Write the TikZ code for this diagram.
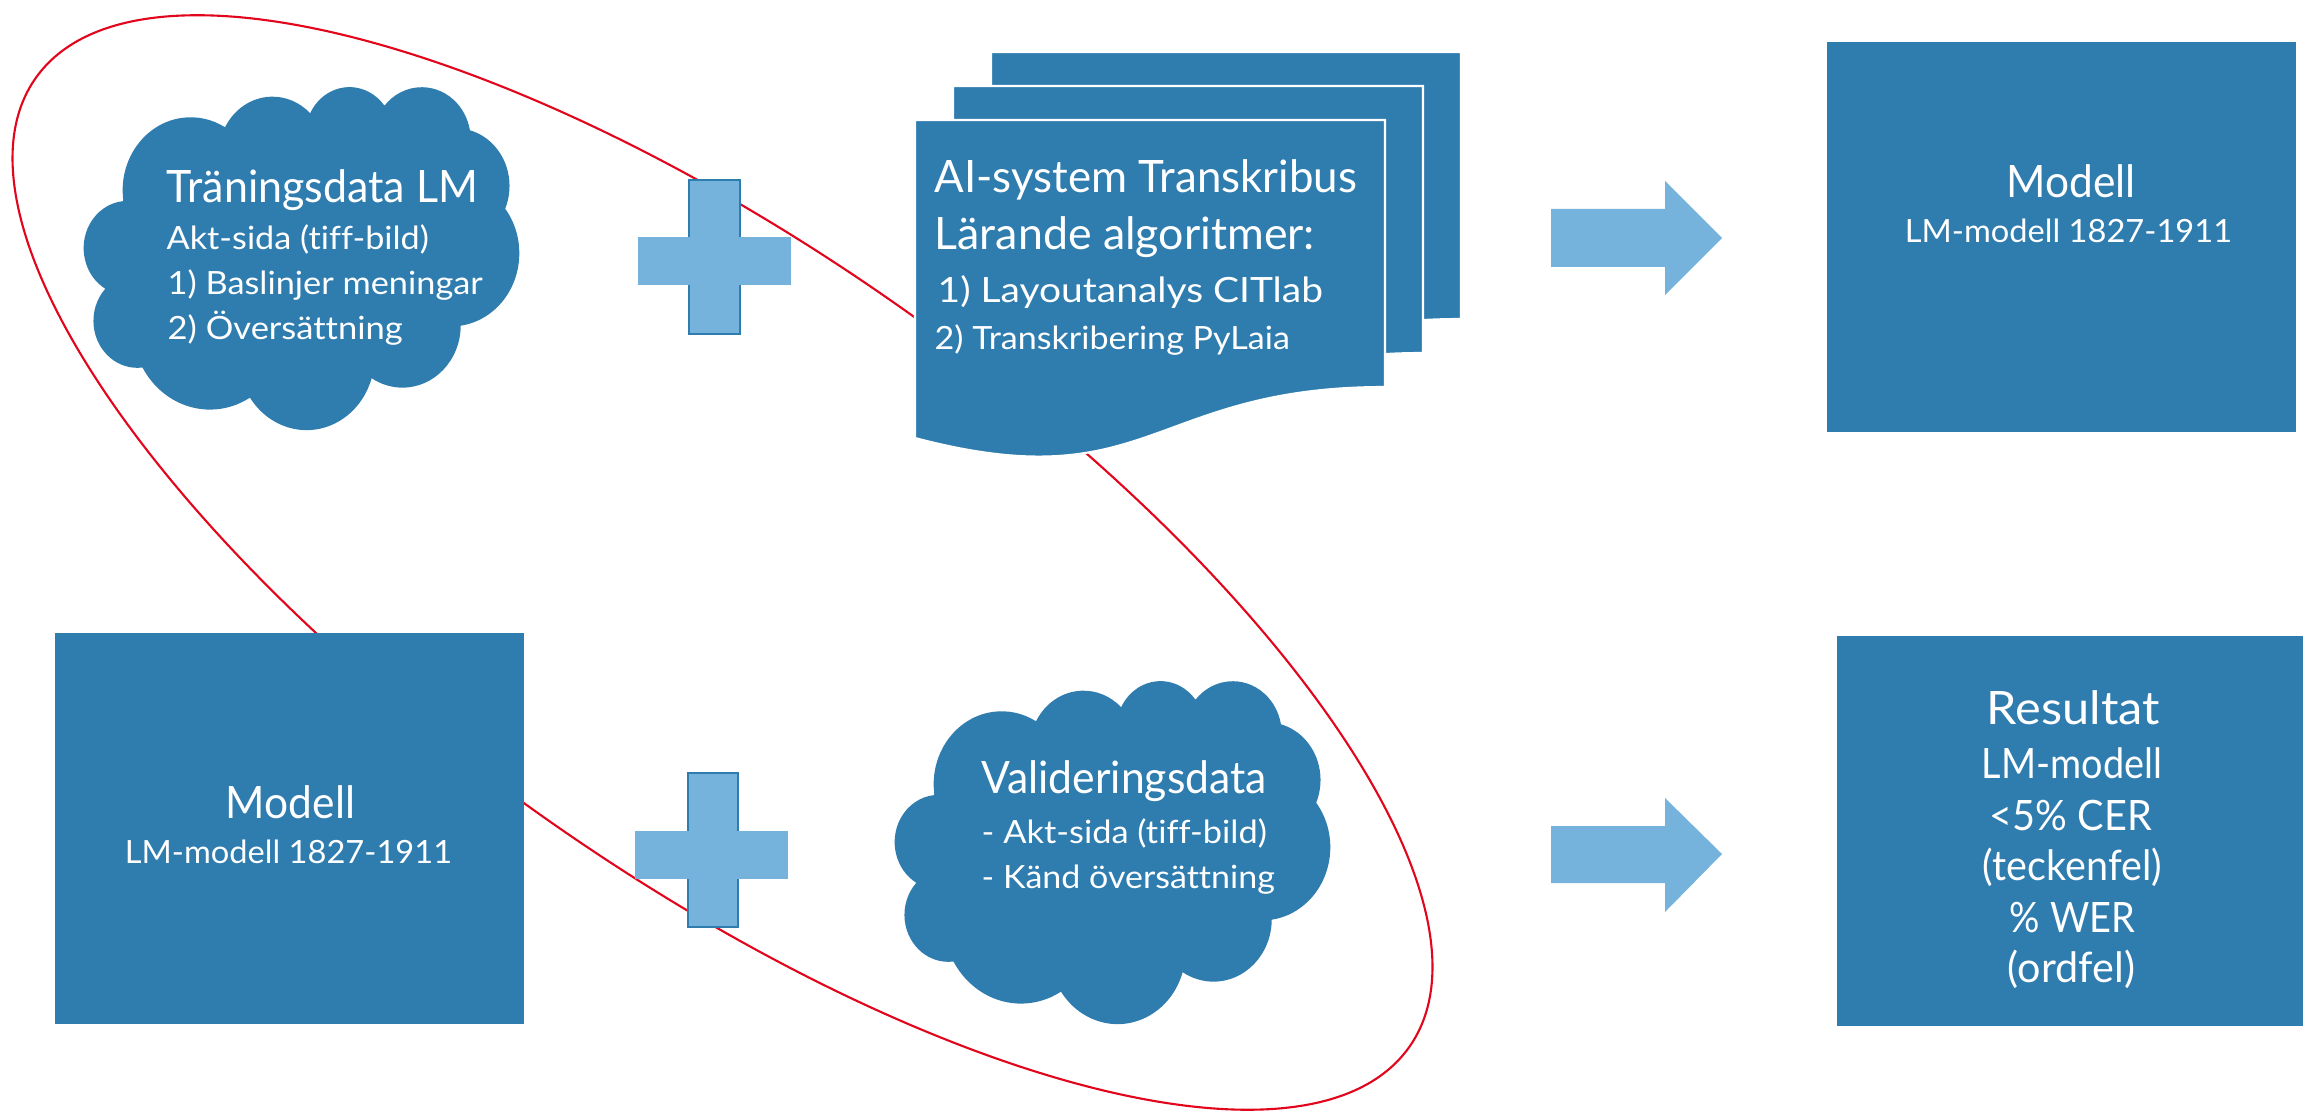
\documentclass[tikz,border=0pt]{standalone}
\usepackage{fontspec}
\setmainfont{Lato}[Ligatures=NoCommon]
\usepackage{graphicx}
\definecolor{dblue}{HTML}{2F7CAF}
\definecolor{lblue}{HTML}{75B3DC}
\definecolor{ered}{HTML}{E2061C}
\newcommand\fitw[2]{\resizebox{#1}{\height}{#2}}
\begin{document}
\begin{tikzpicture}[x=0.01cm,y=-0.01cm,
  box/.style={fill=dblue, draw=none, inner sep=0pt, minimum width=4.69cm, minimum height=3.9cm},
  wtxt/.style={text=white, inner sep=0pt},
  page/.style={fill=dblue, draw=white, line width=0.6pt},
  blk/.style={fill=lblue, draw=none},
  vbar/.style={fill=lblue, draw=dblue, line width=0.5pt},
  cloudfill/.style={fill=dblue, draw=none},
  fA/.style={font=\fontsize{12.7}{15}\selectfont},
  fB/.style={font=\fontsize{9.1}{11}\selectfont},
  fC/.style={font=\fontsize{9.9}{12}\selectfont},
  fR/.style={font=\fontsize{13.1}{16}\selectfont},
  fS/.style={font=\fontsize{11.9}{14}\selectfont}]
\useasboundingbox (0,0) rectangle (2303,1113);
% red ellipse (behind everything)
\draw[ered, line width=0.6pt, rotate around={-35.2:(722.5,562.5)}] (722.5,562.5) ellipse [x radius=8.40cm, y radius=3.11cm];

% clouds (PowerPoint cloud geometry)
\foreach \cx/\cy in {84/86, 895/680}{
  \path[cloudfill, shift={(\cx,\cy)}, x=0.00100694cm, y=-0.00079398cm]
    (390,1437)
    arc[x radius=675.3, y radius=919.0, start angle=-187.75, end angle=-59.64]
    arc[x radius=533.3, y radius=726.7, start angle=-152.02, end angle=-45.45]
    arc[x radius=436.5, y radius=594.5, start angle=-153.48, end angle=-37.30]
    arc[x radius=485.7, y radius=659.5, start angle=-139.72, end angle=-10.21]
    arc[x radius=533.3, y radius=727.3, start angle=-74.77, end angle=23.21]
    arc[x radius=677.5, y radius=922.0, start angle=-37.53, end angle=81.86]
    arc[x radius=578.5, y radius=786.7, start angle=0.46, end angle=121.98]
    arc[x radius=675.2, y radius=921.5, start angle=16.84, end angle=146.23]
    arc[x radius=772.0, y radius=1054.3, start angle=58.98, end angle=150.20]
    arc[x radius=436.0, y radius=591.8, start angle=-276.69, end angle=-136.90]
    arc[x radius=434.5, y radius=594.5, start angle=-239.64, end angle=-95.89]
    -- cycle;
}
\coordinate (cloud1) at (301.5,257.5);
\coordinate (cloud2) at (1112.5,851.5);

% cloud 1 text
\node[wtxt, fA, anchor=base west] (c1a) at (166,203) {\fitw{3.11cm}{Träningsdata LM}};
\node[wtxt, fB, anchor=base west] (c1b) at (166,250) {\fitw{2.62cm}{Akt-sida (tiff-bild)}};
\node[wtxt, fB, anchor=base west] (c1c) at (167,295) {\fitw{3.15cm}{1) Baslinjer meningar}};
\node[wtxt, fB, anchor=base west] (c1d) at (167,340) {\fitw{2.35cm}{2) Översättning}};

% plus 1
\path[vbar] (689,180) rectangle (740,334);
\path[blk] (638,237) rectangle (791,285);

% multidocument
\foreach \dx/\dy in {76/-68, 38/-34, 0/0}{
  \path[page, shift={(\dx,\dy)}] (915,120) -- (1385,120) -- (1385,387)
     .. controls (1150,387) and (1150,500) .. (915,438) -- cycle;
}
\coordinate (docs) at (1150,250);
\node[wtxt, fA, anchor=base west] (d1) at (934,193) {\fitw{4.22cm}{AI-system Transkribus}};
\node[wtxt, fA, anchor=base west] (d2) at (934,250) {\fitw{3.80cm}{Lärande algoritmer:}};
\node[wtxt, fC, anchor=base west] (d3) at (937,303) {\fitw{3.85cm}{1) Layoutanalys CITlab}};
\node[wtxt, fB, anchor=base west] (d4) at (934,350) {\fitw{3.55cm}{2) Transkribering PyLaia}};

% arrow 1
\path[blk] (1551,209) -- (1665,209) -- (1665,181) -- (1722,238) -- (1665,295) -- (1665,267) -- (1551,267) -- cycle;

% model box top right
\node[box] (modelTR) at (2061.5,237) {};
\node[wtxt, fA, anchor=base] (m1a) at (2071,198) {\fitw{1.29cm}{Modell}};
\node[wtxt, fB, anchor=base] (m1b) at (2068.5,243) {\fitw{3.27cm}{LM-modell 1827-1911}};

% model box bottom left
\node[box] (modelBL) at (289.5,828.5) {};
\node[wtxt, fA, anchor=base] (m2a) at (290.5,818) {\fitw{1.29cm}{Modell}};
\node[wtxt, fB, anchor=base] (m2b) at (288.5,863) {\fitw{3.27cm}{LM-modell 1827-1911}};

% plus 2
\path[vbar] (688,773) rectangle (738,927);
\path[blk] (635,831) rectangle (788,879);

% cloud 2 text
\node[wtxt, fA, anchor=base west] (c2a) at (981,793) {\fitw{2.85cm}{Valideringsdata}};
\node[wtxt, fB, anchor=base west] (c2b) at (981,843) {\fitw{2.85cm}{- Akt-sida (tiff-bild)}};
\node[wtxt, fB, anchor=base west] (c2c) at (981,888) {\fitw{2.93cm}{- Känd översättning}};

% arrow 2
\path[blk] (1551,826) -- (1665,826) -- (1665,798) -- (1722,854) -- (1665,912) -- (1665,883) -- (1551,883) -- cycle;

% result box
\node[box] (result) at (2071.5,831) {};
\node[wtxt, fR, anchor=base] (r1) at (2073.5,725) {\fitw{1.73cm}{Resultat}};
\node[wtxt, fS, anchor=base] (r2) at (2072,778) {\fitw{1.80cm}{LM-modell}};
\node[wtxt, fS, anchor=base] (r3) at (2071,830) {\fitw{1.62cm}{<5\% CER}};
\node[wtxt, fS, anchor=base] (r4) at (2072.5,880) {\fitw{1.79cm}{(teckenfel)}};
\node[wtxt, fS, anchor=base] (r5) at (2072.5,932) {\fitw{1.25cm}{\% WER}};
\node[wtxt, fS, anchor=base] (r6) at (2071.5,982) {\fitw{1.27cm}{(ordfel)}};
\end{tikzpicture}
\end{document}
